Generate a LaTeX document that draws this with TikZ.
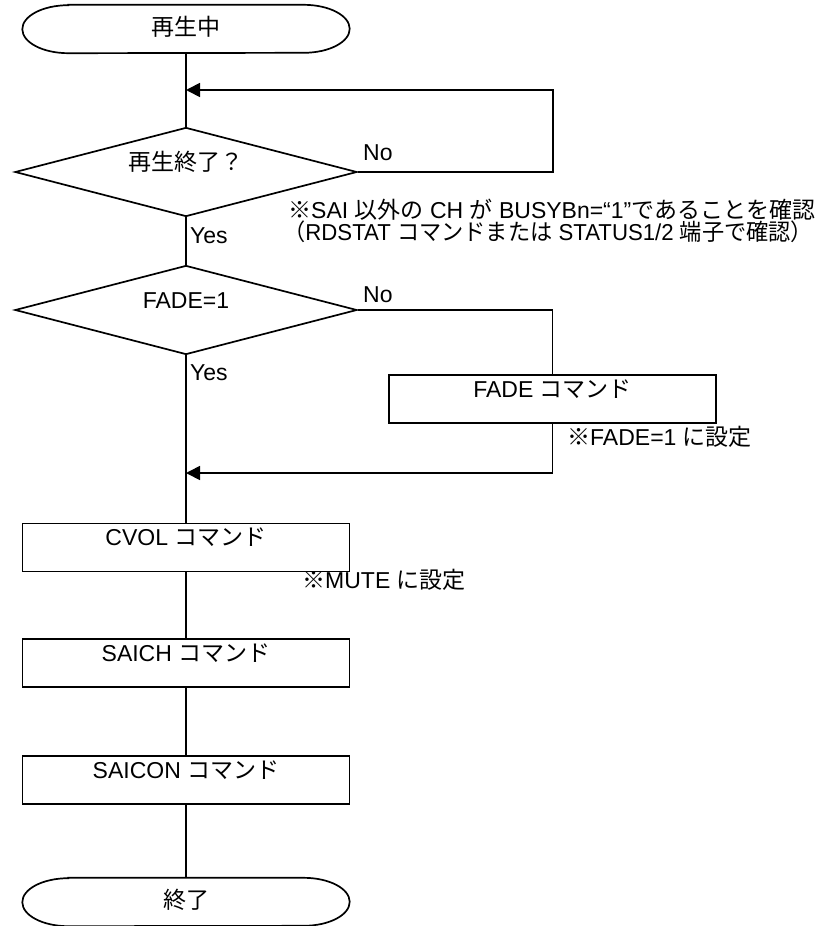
\documentclass[tikz,border=0pt]{standalone}
\usepackage{fontspec}
\setmainfont{Liberation Sans}
\newfontfamily\jp{Noto Sans CJK JP}
\usetikzlibrary{shapes.geometric,arrows.meta}
\tikzset{
  lw/.style={line width=1.7pt},
  txt/.style={font=\fontsize{23pt}{27pt}\selectfont, inner sep=0pt},
  procbox/.style={txt, draw, lw, rectangle, minimum width=327pt, minimum height=48pt, text height=16pt, text depth=20pt},
  decide/.style={txt, draw, lw, diamond, aspect=3.84, minimum width=342pt, minimum height=89pt, text height=16pt, text depth=20pt},
  term/.style={txt, minimum width=327pt, minimum height=48pt, text height=16pt, text depth=4pt},
  lab/.style={txt, anchor=base west},
  note/.style={txt, anchor=west, text height=15pt, text depth=4pt},
  flow/.style={lw},
  arr/.style={lw, -{Triangle[length=14pt,width=14pt]}},
}
\newcommand\termoutline[1]{%
  \draw[lw] ([xshift=46pt]#1.north west) -- ([xshift=-46pt]#1.north east)
    arc[start angle=90, end angle=-90, x radius=46pt, y radius=24pt]
    -- ([xshift=46pt]#1.south west)
    arc[start angle=270, end angle=90, x radius=46pt, y radius=24pt] -- cycle;}
\begin{document}
\begin{tikzpicture}[x=1pt,y=-1pt]
\useasboundingbox (0,0) rectangle (830,926);

% nodes
\node[term] (start) at (186,29) {\jp 再生中};
\termoutline{start}
\node[decide] (d1) at (186,172) {\jp 再生終了？};
\node[decide] (d2) at (186,310) {FADE=1};
\node[procbox] (fade) at (552.5,399) {FADE {\jp コマンド}};
\node[procbox] (cvol) at (186,547.5) {CVOL {\jp コマンド}};
\node[procbox] (saich) at (186,663) {SAICH {\jp コマンド}};
\node[procbox] (saicon) at (186,780) {SAICON {\jp コマンド}};
\node[term] (stop) at (186,902) {\jp 終了};
\termoutline{stop}

% labels
\node[lab] (no1) at (363,160) {No};
\node[lab] (yes1) at (190,243) {Yes};
\node[lab] (no2) at (363,302) {No};
\node[lab] (yes2) at (190,380) {Yes};
\node[note] (n1) at (288,213) {{\jp ※}SAI {\jp 以外の} CH {\jp が} BUSYBn=“1”{\jp であることを確認}};
\node[note] (n2) at (283,235) {\scalebox{0.965}[1]{{\jp （}RDSTAT {\jp コマンドまたは} STATUS1/2 {\jp 端子で確認）}}};
\node[note] (n3) at (567,440) {{\jp ※}FADE=1 {\jp に設定}};
\node[note] (n4) at (302,583) {{\jp ※}MUTE {\jp に設定}};

% coordinates
\coordinate (r1) at (553,90);
\coordinate (m1) at (186,90);
\coordinate (m2) at (186,473);

% connectors
\draw[flow] (start.south) -- (d1.north);
\draw[arr] (d1.east) -| (r1) -- (m1);
\draw[flow] (d1.south) -- (d2.north);
\draw[flow] (d2.east) -| (fade.north);
\draw[arr] (fade.south) |- (m2);
\draw[flow] (d2.south) -- (cvol.north);
\draw[flow] (cvol.south) -- (saich.north);
\draw[flow] (saich.south) -- (saicon.north);
\draw[flow] (saicon.south) -- (stop.north);
\end{tikzpicture}
\end{document}
